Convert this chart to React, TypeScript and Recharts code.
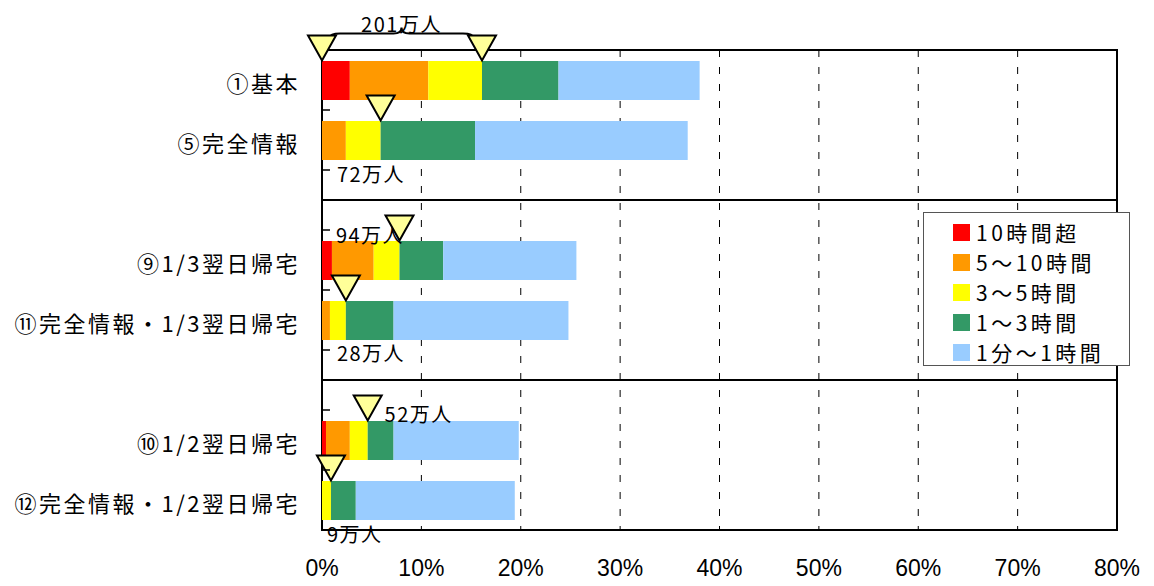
import React from "react";
import {
  BarChart,
  Bar,
  XAxis,
  YAxis,
  CartesianGrid,
  ReferenceLine,
  ReferenceArea,
  ReferenceDot,
} from "recharts";

// categories (top to bottom), gap rows separate the three groups
const categoryIds = ["c1", "c5", "gap1", "c9", "c11", "gap2", "c10", "c12"];
const categoryLabels = [
  "①基本",
  "⑤完全情報",
  "",
  "⑨1/3翌日帰宅",
  "⑪完全情報・1/3翌日帰宅",
  "",
  "⑩1/2翌日帰宅",
  "⑫完全情報・1/2翌日帰宅",
];

// share of people (%) by waiting time
const over10h = [2.8, 0, null, 1.0, 0, null, 0.4, 0];
const h5to10 = [7.9, 2.4, null, 4.2, 0.8, null, 2.4, 0];
const h3to5 = [5.4, 3.5, null, 2.6, 1.6, null, 1.8, 0.9];
const h1to3 = [7.7, 9.5, null, 4.4, 4.8, null, 2.6, 2.5];
const m1to60 = [14.2, 21.4, null, 13.4, 17.6, null, 12.6, 16.0];

// people waiting 3 hours or more
const peopleIds = ["c1", "c5", "c9", "c11", "c10", "c12"];
const peopleLabels = ["201万人", "72万人", "94万人", "28万人", "52万人", "9万人"];

const xTicks = [0, 10, 20, 30, 40, 50, 60, 70, 80];

const series = [
  { key: "over10h", name: "10時間超", color: "#ff0000" },
  { key: "h5to10", name: "5〜10時間", color: "#ff9900" },
  { key: "h3to5", name: "3〜5時間", color: "#ffff00" },
  { key: "h1to3", name: "1〜3時間", color: "#339966" },
  { key: "m1to60", name: "1分〜1時間", color: "#99ccff" },
];

const data = categoryIds.map((id, i) => ({
  id,
  over10h: over10h[i],
  h5to10: h5to10[i],
  h3to5: h3to5[i],
  h1to3: h1to3[i],
  m1to60: m1to60[i],
}));

const markers = [
  { id: "c1", x: 0 },
  ...peopleIds.map((id) => {
    const i = categoryIds.indexOf(id);
    return { id, x: (over10h[i] ?? 0) + (h5to10[i] ?? 0) + (h3to5[i] ?? 0) };
  }),
];

// where each "万人" label sits (x in %, dy in px from bar centre)
const labelPlace: Record<string, { x: number; dy: number }> = {
  c5: { x: 1.5, dy: 33 },
  c9: { x: 1.4, dy: -26 },
  c11: { x: 1.5, dy: 32 },
  c10: { x: 6.3, dy: -27 },
  c12: { x: 0.5, dy: 33 },
};

const JP = "'Noto Sans CJK JP', 'Noto Sans', sans-serif";
const HALF_BAR = 19.5;

const labelOf = (id: string) => categoryLabels[categoryIds.indexOf(id)] ?? "";

function CategoryTick(props: any) {
  const { x, y, payload, index } = props;
  return (
    <g>
      <text
        x={x}
        y={y + 2}
        textAnchor="end"
        dominantBaseline="central"
        fontFamily={JP}
        fontSize={22}
        letterSpacing={2.5}
        fill="#000"
      >
        {labelOf(payload.value)}
      </text>
      {index < categoryIds.length - 1 && (
        <line x1={x + 22} x2={x + 30} y1={y + 30} y2={y + 30} stroke="#000" strokeWidth={1.5} />
      )}
    </g>
  );
}

function Triangle(props: any) {
  const { cx, cy } = props;
  const tip = cy - HALF_BAR;
  return (
    <polygon
      points={`${cx - 14},${tip - 25} ${cx + 14},${tip - 25} ${cx},${tip}`}
      fill="#ffff99"
      stroke="#000"
      strokeWidth={2}
      strokeLinejoin="miter"
    />
  );
}

function Brace(props: any) {
  const { x1, x2, y1 } = props;
  const y0 = y1 - 46.5;
  const a = x1 + 8;
  const b = x2 - 9;
  const mid = (a + b) / 2;
  const d = `M${a},${y0 + 4} Q${a},${y0} ${a + 10},${y0} L${mid - 8},${y0} Q${mid},${y0} ${mid},${y0 - 6} Q${mid},${y0} ${mid + 8},${y0} L${b - 10},${y0} Q${b},${y0} ${b},${y0 + 4}`;
  return (
    <g>
      <path d={d} fill="none" stroke="#000" strokeWidth={2} />
      <text
        x={mid}
        y={y1 - 57}
        textAnchor="middle"
        dominantBaseline="central"
        fontFamily={JP}
        fontSize={20}
        letterSpacing={1.5}
        fill="#000"
      >
        {peopleLabels[0]}
      </text>
    </g>
  );
}

function PeopleLabel(props: any) {
  const { cx, cy, text, dy } = props;
  return (
    <text
      x={cx}
      y={cy + dy}
      dominantBaseline="central"
      fontFamily={JP}
      fontSize={20}
      letterSpacing={1.5}
      fill="#000"
    >
      {text}
    </text>
  );
}

function LegendBox() {
  return (
    <div
      style={{
        position: "absolute",
        left: 923,
        top: 212,
        width: 207,
        height: 154,
        background: "#fff",
        border: "1px solid #555",
        boxSizing: "border-box",
        paddingTop: 4,
      }}
    >
      {series.map((s) => (
        <div
          key={s.key}
          style={{ display: "flex", alignItems: "center", height: 30, paddingLeft: 29 }}
        >
          <span style={{ width: 17, height: 17, background: s.color, marginRight: 6 }} />
          <span style={{ fontFamily: JP, fontSize: 21, letterSpacing: 3.5, color: "#000", lineHeight: "30px" }}>
            {s.name}
          </span>
        </div>
      ))}
    </div>
  );
}

export default function App() {
  return (
    <div style={{ position: "relative", width: 1154, height: 586, background: "#fff" }}>
      <style>{`body{margin:0}`}</style>
      <BarChart
        width={1154}
        height={586}
        data={data}
        layout="vertical"
        margin={{ top: 50, right: 37, bottom: 0, left: 0 }}
        barSize={39}
      >
        <CartesianGrid horizontal={false} stroke="#000" strokeDasharray="7 10" />
        <XAxis
          type="number"
          domain={[0, 80]}
          ticks={xTicks}
          tickFormatter={(v) => `${v}%`}
          axisLine={false}
          tickLine={false}
          tickSize={0}
          tickMargin={30}
          height={56}
          interval={0}
          tick={{
            fill: "#000",
            fontSize: 23,
            fontFamily: "'Liberation Sans Narrow', 'Liberation Sans', Arial, sans-serif",
          }}
        />
        <YAxis
          type="category"
          dataKey="id"
          width={322}
          axisLine={false}
          tickLine={false}
          tickSize={0}
          tickMargin={22}
          interval={0}
          tick={<CategoryTick />}
        />
        {series.map((s) => (
          <Bar key={s.key} dataKey={s.key} name={s.name} stackId="a" fill={s.color} isAnimationActive={false} />
        ))}
        <ReferenceArea x1={0} x2={80} fill="none" fillOpacity={0} stroke="#000" strokeWidth={2} ifOverflow="visible" />
        <ReferenceLine y="gap1" stroke="#000" strokeWidth={2} />
        <ReferenceLine y="gap2" stroke="#000" strokeWidth={2} />
        <ReferenceLine
          segment={[
            { x: 0, y: "c1" },
            { x: markers[1].x, y: "c1" },
          ]}
          ifOverflow="visible"
          shape={(p: any) => <Brace {...p} />}
        />
        {peopleIds.slice(1).map((id, k) => (
          <ReferenceDot
            key={`lbl-${id}`}
            x={labelPlace[id].x}
            y={id}
            r={0}
            ifOverflow="visible"
            shape={(p: any) => <PeopleLabel {...p} text={peopleLabels[k + 1]} dy={labelPlace[id].dy} />}
          />
        ))}
        {markers.map((m, i) => (
          <ReferenceDot
            key={`tri-${i}`}
            x={m.x}
            y={m.id}
            r={0}
            ifOverflow="visible"
            shape={(p: any) => <Triangle {...p} />}
          />
        ))}
      </BarChart>
      <LegendBox />
    </div>
  );
}
